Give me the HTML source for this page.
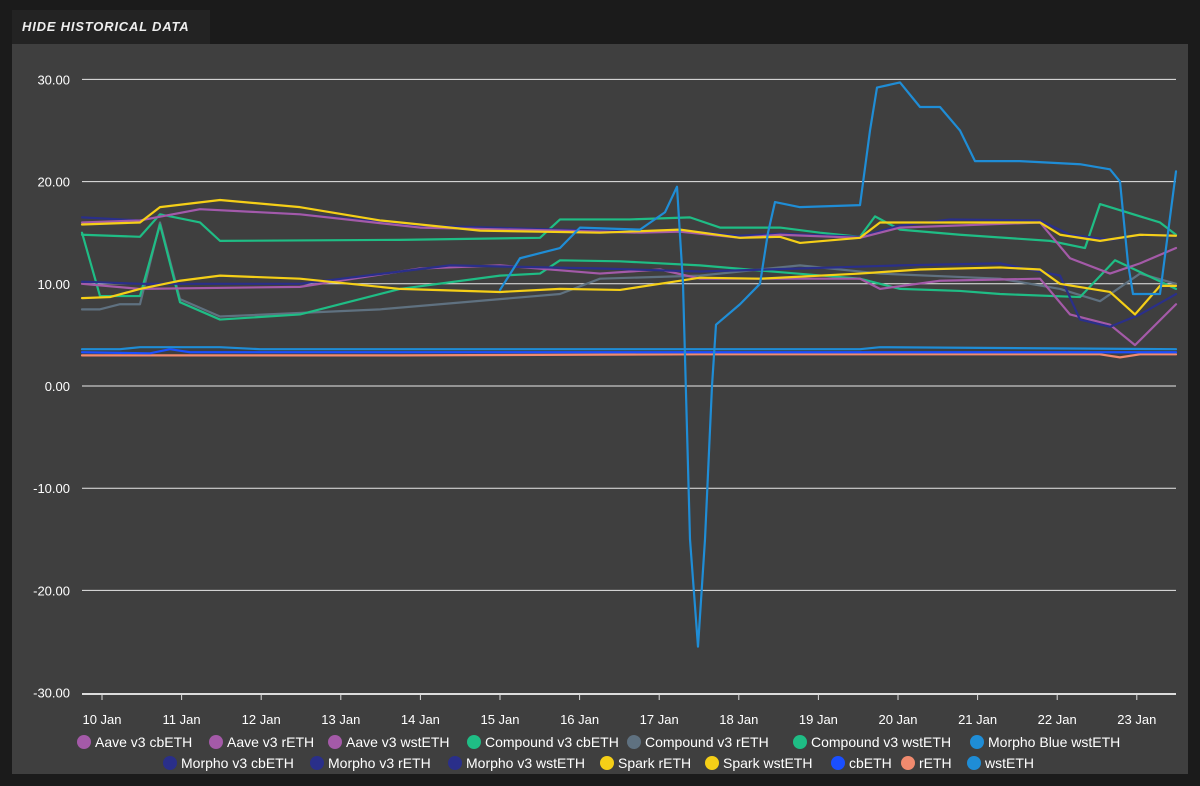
<!DOCTYPE html>
<html><head><meta charset="utf-8">
<style>
html,body{margin:0;padding:0;background:#1b1b1b;width:1200px;height:786px;overflow:hidden;font-family:"Liberation Sans",sans-serif;}
.tab{position:absolute;left:12px;top:10px;width:198px;height:34px;background:#232323;color:#eee;font-style:italic;font-weight:bold;font-size:13px;letter-spacing:0.8px;line-height:34px;padding-left:10px;box-sizing:border-box;}
.panel{position:absolute;left:12px;top:44px;width:1176px;height:730px;background:#3f3f3f;}
svg{position:absolute;left:0;top:0;}
</style></head><body>
<div class="tab">HIDE HISTORICAL DATA</div>
<div class="panel"></div>
<svg width="1200" height="786" xmlns="http://www.w3.org/2000/svg" font-family="Liberation Sans, sans-serif">
<g stroke="#e8e8e8" stroke-width="1">
<line x1="82" x2="1176" y1="79.4" y2="79.4"/><line x1="82" x2="1176" y1="181.6" y2="181.6"/><line x1="82" x2="1176" y1="283.8" y2="283.8"/><line x1="82" x2="1176" y1="386" y2="386"/><line x1="82" x2="1176" y1="488.2" y2="488.2"/><line x1="82" x2="1176" y1="590.4" y2="590.4"/>
</g>
<line x1="82" x2="1176" y1="694" y2="694" stroke="#ddd" stroke-width="2"/>
<g fill="#fff" font-size="13" text-anchor="end">
<text x="70" y="84.4">30.00</text><text x="70" y="186.6">20.00</text><text x="70" y="288.8">10.00</text><text x="70" y="391">0.00</text><text x="70" y="493.2">-10.00</text><text x="70" y="595.4">-20.00</text><text x="70" y="697.6">-30.00</text>
</g>
<g stroke="#ddd" stroke-width="1">
<line x1="102" x2="102" y1="694" y2="700"/><line x1="181.6" x2="181.6" y1="694" y2="700"/><line x1="261.2" x2="261.2" y1="694" y2="700"/><line x1="340.8" x2="340.8" y1="694" y2="700"/><line x1="420.4" x2="420.4" y1="694" y2="700"/><line x1="500" x2="500" y1="694" y2="700"/><line x1="579.6" x2="579.6" y1="694" y2="700"/><line x1="659.2" x2="659.2" y1="694" y2="700"/><line x1="738.8" x2="738.8" y1="694" y2="700"/><line x1="818.4" x2="818.4" y1="694" y2="700"/><line x1="898" x2="898" y1="694" y2="700"/><line x1="977.6" x2="977.6" y1="694" y2="700"/><line x1="1057.2" x2="1057.2" y1="694" y2="700"/><line x1="1136.8" x2="1136.8" y1="694" y2="700"/>
</g>
<g fill="#fff" font-size="13" text-anchor="middle">
<text x="102" y="724">10 Jan</text><text x="181.6" y="724">11 Jan</text><text x="261.2" y="724">12 Jan</text><text x="340.8" y="724">13 Jan</text><text x="420.4" y="724">14 Jan</text><text x="500" y="724">15 Jan</text><text x="579.6" y="724">16 Jan</text><text x="659.2" y="724">17 Jan</text><text x="738.8" y="724">18 Jan</text><text x="818.4" y="724">19 Jan</text><text x="898" y="724">20 Jan</text><text x="977.6" y="724">21 Jan</text><text x="1057.2" y="724">22 Jan</text><text x="1136.8" y="724">23 Jan</text>
</g>
<g transform="translate(0,386) scale(1,-10.22)" fill="none" stroke-width="2.2" stroke-linejoin="round" stroke-linecap="round">
<polyline vector-effect="non-scaling-stroke" stroke="#f08a6e" points="82,3 400,3 700,3.1 1100,3.1 1120,2.8 1140,3.1 1176,3.1"/>
<polyline vector-effect="non-scaling-stroke" stroke="#1a4fff" points="82,3.3 150,3.2 170,3.6 190,3.3 600,3.3 1176,3.3"/>
<polyline vector-effect="non-scaling-stroke" stroke="#1f8dd6" points="82,3.6 120,3.6 140,3.8 220,3.8 260,3.6 860,3.6 880,3.8 1176,3.6"/>
<polyline vector-effect="non-scaling-stroke" stroke="#5f7180" points="82,7.5 100,7.5 120,8 140,8 160,16 180,8.5 220,6.8 380,7.5 500,8.5 560,9 600,10.5 700,10.8 800,11.8 880,11 1000,10.5 1060,9.5 1100,8.3 1140,11 1176,10"/>
<polyline vector-effect="non-scaling-stroke" stroke="#1fbd85" points="82,15 100,8.8 140,8.8 160,15.8 180,8.2 220,6.5 300,7 400,9.5 500,10.8 540,11 560,12.3 620,12.2 700,11.8 760,11.3 860,10.5 900,9.5 960,9.3 1000,9 1080,8.7 1115,12.3 1176,9.5"/>
<polyline vector-effect="non-scaling-stroke" stroke="#1fbd85" points="82,14.8 140,14.6 160,16.8 200,16 220,14.2 400,14.3 540,14.5 560,16.3 630,16.3 690,16.5 720,15.5 780,15.5 820,15 860,14.6 875,16.6 900,15.3 960,14.8 1050,14.2 1085,13.5 1100,17.8 1160,16 1176,14.8"/>
<polyline vector-effect="non-scaling-stroke" stroke="#a45aa8" points="82,10 140,9.5 300,9.7 420,11.5 500,11.8 600,11 660,11.4 700,10.5 860,10.5 880,9.5 940,10.3 1040,10.5 1070,7 1110,6 1135,4 1176,8"/>
<polyline vector-effect="non-scaling-stroke" stroke="#2a2f8a" points="82,10.2 140,10 300,10 450,11.8 600,11.5 700,11.2 800,11.5 900,11.8 1000,12 1060,10.8 1080,6.5 1110,5.8 1140,7 1176,9"/>
<polyline vector-effect="non-scaling-stroke" stroke="#2a2f8a" points="82,16.5 140,16.2 200,17.3 300,16.8 420,15.7 560,15.3 640,15.1 680,15.2 740,14.7 780,14.9 860,14.6 900,15.7 950,16.3 1040,16.2 1070,14.8 1110,14.3 1140,14.8 1176,14.7"/>
<polyline vector-effect="non-scaling-stroke" stroke="#a45aa8" points="82,16 140,16.2 200,17.3 300,16.8 420,15.5 560,15.2 640,15 680,15.1 740,14.5 780,14.8 860,14.5 900,15.5 1040,16 1070,12.5 1110,11 1140,12 1176,13.5"/>
<polyline vector-effect="non-scaling-stroke" stroke="#f5cf17" points="82,8.6 110,8.7 140,9.5 180,10.3 220,10.8 300,10.5 400,9.5 500,9.2 560,9.5 620,9.4 660,10 700,10.6 760,10.5 860,11 920,11.4 1000,11.6 1040,11.4 1060,10 1110,9.2 1135,7 1160,9.8 1176,9.8"/>
<polyline vector-effect="non-scaling-stroke" stroke="#f5cf17" points="82,15.8 140,16 160,17.5 220,18.2 300,17.5 380,16.2 480,15.2 600,15 680,15.3 740,14.5 780,14.6 800,14 860,14.5 880,16 1040,16 1060,14.8 1100,14.2 1140,14.8 1176,14.7"/>
<polyline vector-effect="non-scaling-stroke" stroke="#1f8dd6" points="500,9.4 520,12.5 560,13.5 580,15.5 640,15.3 665,17 677,19.5 683,10 690,-15 698,-25.5 705,-15 712,0 716,6 740,8 760,10 768,15 775,18 800,17.5 860,17.7 870,25 877,29.2 900,29.7 920,27.3 940,27.3 960,25 975,22 1020,22 1080,21.7 1110,21.2 1120,20 1128,12 1133,9 1160,9 1168,15 1176,21"/>
</g>
<g font-size="14" fill="#fff">
<circle cx="84" cy="742" r="7" fill="#a45aa8"/><text x="95" y="747">Aave v3 cbETH</text>
<circle cx="216" cy="742" r="7" fill="#a45aa8"/><text x="227" y="747">Aave v3 rETH</text>
<circle cx="335" cy="742" r="7" fill="#a45aa8"/><text x="346" y="747">Aave v3 wstETH</text>
<circle cx="474" cy="742" r="7" fill="#1fbd85"/><text x="485" y="747">Compound v3 cbETH</text>
<circle cx="634" cy="742" r="7" fill="#5f7180"/><text x="645" y="747">Compound v3 rETH</text>
<circle cx="800" cy="742" r="7" fill="#1fbd85"/><text x="811" y="747">Compound v3 wstETH</text>
<circle cx="977" cy="742" r="7" fill="#1f8dd6"/><text x="988" y="747">Morpho Blue wstETH</text>
<circle cx="170" cy="763" r="7" fill="#2a2f8a"/><text x="181" y="768">Morpho v3 cbETH</text>
<circle cx="317" cy="763" r="7" fill="#2a2f8a"/><text x="328" y="768">Morpho v3 rETH</text>
<circle cx="455" cy="763" r="7" fill="#2a2f8a"/><text x="466" y="768">Morpho v3 wstETH</text>
<circle cx="607" cy="763" r="7" fill="#f5cf17"/><text x="618" y="768">Spark rETH</text>
<circle cx="712" cy="763" r="7" fill="#f5cf17"/><text x="723" y="768">Spark wstETH</text>
<circle cx="838" cy="763" r="7" fill="#1a4fff"/><text x="849" y="768">cbETH</text>
<circle cx="908" cy="763" r="7" fill="#f08a6e"/><text x="919" y="768">rETH</text>
<circle cx="974" cy="763" r="7" fill="#1f8dd6"/><text x="985" y="768">wstETH</text>
</g>
</svg>
</body></html>
